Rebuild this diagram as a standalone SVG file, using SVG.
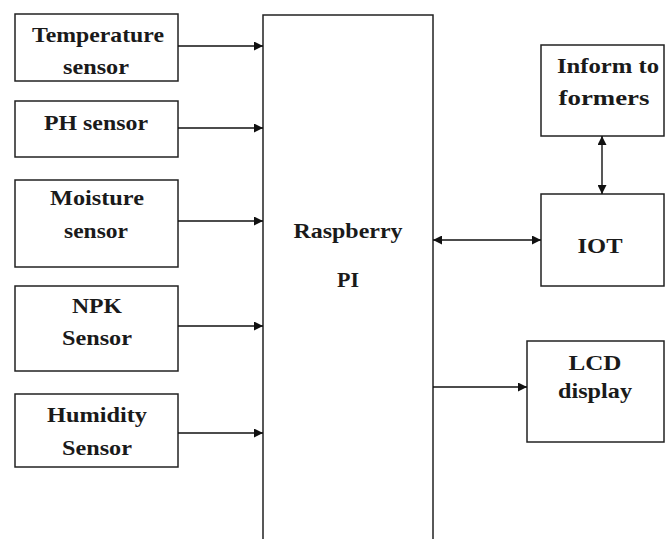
<svg xmlns="http://www.w3.org/2000/svg" width="665" height="539" viewBox="0 0 665 539">
<style>
.box{fill:#fff;stroke:#222;stroke-width:1.5}
.t{font-family:"Liberation Serif","Times New Roman",serif;font-weight:bold;font-size:21px;fill:#1a1a1a;text-anchor:middle}
.c{stroke:#111;stroke-width:1.4;fill:none}
</style>
<defs>
<marker id="ah" viewBox="0 0 10 10" refX="10" refY="5" markerWidth="10" markerHeight="9" markerUnits="userSpaceOnUse" orient="auto-start-reverse">
<path d="M0,0 L10,5 L0,10 Z" fill="#111"/>
</marker>
</defs>
<rect width="665" height="539" fill="#fff"/>
<g id="raspberry">
<rect class="box" x="263" y="15" width="170" height="540"/>
<text class="t" x="348" y="238" textLength="109" lengthAdjust="spacingAndGlyphs">Raspberry</text>
<text class="t" x="348" y="287" textLength="22" lengthAdjust="spacingAndGlyphs">PI</text>
</g>
<g id="temperature">
<rect class="box" x="15" y="14" width="163" height="67"/>
<text class="t" x="98" y="42" textLength="132" lengthAdjust="spacingAndGlyphs">Temperature</text>
<text class="t" x="96" y="74" textLength="66" lengthAdjust="spacingAndGlyphs">sensor</text>
</g>
<g id="ph">
<rect class="box" x="15" y="101" width="163" height="56"/>
<text class="t" x="96" y="130" textLength="104" lengthAdjust="spacingAndGlyphs">PH sensor</text>
</g>
<g id="moisture">
<rect class="box" x="15" y="180" width="163" height="87"/>
<text class="t" x="97" y="205" textLength="94" lengthAdjust="spacingAndGlyphs">Moisture</text>
<text class="t" x="96" y="238" textLength="64" lengthAdjust="spacingAndGlyphs">sensor</text>
</g>
<g id="npk">
<rect class="box" x="15" y="286" width="163" height="85"/>
<text class="t" x="97" y="313" textLength="50" lengthAdjust="spacingAndGlyphs">NPK</text>
<text class="t" x="97" y="345" textLength="70" lengthAdjust="spacingAndGlyphs">Sensor</text>
</g>
<g id="humidity">
<rect class="box" x="15" y="394" width="163" height="73"/>
<text class="t" x="97" y="422" textLength="100" lengthAdjust="spacingAndGlyphs">Humidity</text>
<text class="t" x="97" y="455" textLength="70" lengthAdjust="spacingAndGlyphs">Sensor</text>
</g>
<g id="inform">
<rect class="box" x="541" y="45" width="123" height="91"/>
<text class="t" x="608" y="73" textLength="102" lengthAdjust="spacingAndGlyphs">Inform to</text>
<text class="t" x="604" y="105" textLength="91" lengthAdjust="spacingAndGlyphs">formers</text>
</g>
<g id="iot">
<rect class="box" x="541" y="194" width="123" height="92"/>
<text class="t" x="600" y="253" textLength="45" lengthAdjust="spacingAndGlyphs">IOT</text>
</g>
<g id="lcd">
<rect class="box" x="527" y="341" width="137" height="101"/>
<text class="t" x="595" y="370" textLength="53" lengthAdjust="spacingAndGlyphs">LCD</text>
<text class="t" x="595" y="398" textLength="74" lengthAdjust="spacingAndGlyphs">display</text>
</g>
<g id="connectors">
<line class="c" x1="178" y1="46" x2="263" y2="46" marker-end="url(#ah)"/>
<line class="c" x1="178" y1="128" x2="263" y2="128" marker-end="url(#ah)"/>
<line class="c" x1="178" y1="221" x2="263" y2="221" marker-end="url(#ah)"/>
<line class="c" x1="178" y1="326" x2="263" y2="326" marker-end="url(#ah)"/>
<line class="c" x1="178" y1="433" x2="263" y2="433" marker-end="url(#ah)"/>
<line class="c" x1="433" y1="240" x2="541" y2="240" marker-start="url(#ah)" marker-end="url(#ah)"/>
<line class="c" x1="602" y1="136" x2="602" y2="194" marker-start="url(#ah)" marker-end="url(#ah)"/>
<line class="c" x1="433" y1="387" x2="527" y2="387" marker-end="url(#ah)"/>
</g>
</svg>
